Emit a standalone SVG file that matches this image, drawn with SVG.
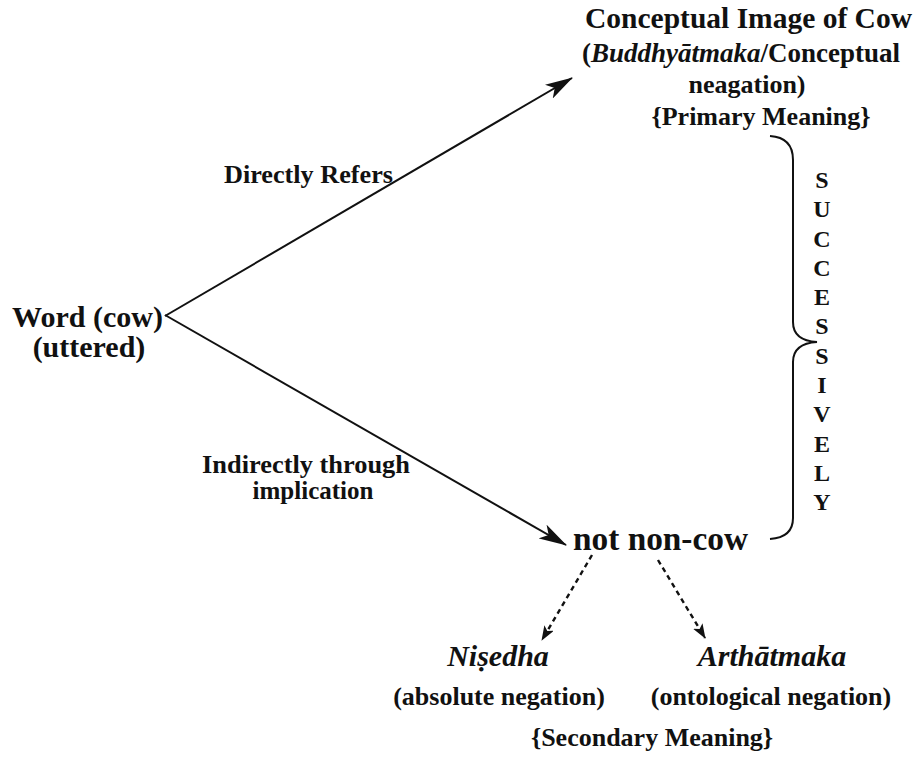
<svg xmlns="http://www.w3.org/2000/svg" width="922" height="757" viewBox="0 0 922 757">
<style>
text{font-family:"Liberation Serif","Times New Roman",serif;font-weight:bold;fill:#111111}
.it{font-style:italic}
.ln{stroke:#111111;stroke-width:2;fill:none}
.dash{stroke:#111111;stroke-width:2.4;fill:none;stroke-dasharray:5 4}
</style>
<defs>
<marker id="ah" markerUnits="userSpaceOnUse" markerWidth="28" markerHeight="16" refX="27" refY="8" orient="auto" viewBox="0 0 28 16">
<path d="M0,0 L28,8 L0,16 L7,8 z" fill="#111111"/>
</marker>
<marker id="ahs" markerUnits="userSpaceOnUse" markerWidth="15" markerHeight="11" refX="14" refY="5.5" orient="auto" viewBox="0 0 15 11">
<path d="M0,0 L15,5.5 L0,11 L3.5,5.5 z" fill="#111111"/>
</marker>
</defs>
<rect width="922" height="757" fill="#ffffff"/>
<g id="connectors">
<line class="ln" x1="165" y1="316" x2="572" y2="78" marker-end="url(#ah)"/>
<line class="ln" x1="165" y1="315" x2="566" y2="545" marker-end="url(#ah)"/>
<line class="dash" x1="592" y1="555" x2="542" y2="640" marker-end="url(#ahs)"/>
<line class="dash" x1="658" y1="560" x2="705" y2="638" marker-end="url(#ahs)"/>
<path class="ln" d="M770,136 C786,137 793,145 793,160 L793,322 C793,334 800,341 817,342 C800,343 793,350 793,362 L793,518 C793,531 785,538 770,539"/>
<text x="224" y="183" font-size="26" textLength="169" lengthAdjust="spacingAndGlyphs">Directly Refers</text>
<text x="202" y="473" font-size="26" textLength="208" lengthAdjust="spacingAndGlyphs">Indirectly through</text>
<text x="313" y="499" font-size="25" text-anchor="middle">implication</text>
</g>
<g id="node-concept">
<text x="585" y="28" font-size="30" textLength="327" lengthAdjust="spacingAndGlyphs">Conceptual Image of Cow</text>
<text x="582" y="62" font-size="27">(<tspan class="it">Buddhyātmaka</tspan>/Conceptual</text>
<text x="747" y="93" font-size="26" text-anchor="middle">neagation)</text>
<text x="761" y="125" font-size="26" text-anchor="middle">{Primary Meaning}</text>
</g>
<g id="node-word">
<text x="12" y="327" font-size="30" textLength="151" lengthAdjust="spacingAndGlyphs">Word (cow)</text>
<text x="89" y="357" font-size="30" text-anchor="middle">(uttered)</text>
</g>
<g id="node-notnoncow">
<text x="573" y="550" font-size="33" textLength="175" lengthAdjust="spacingAndGlyphs">not non-cow</text>
</g>
<g id="label-successively" font-size="24" text-anchor="middle">
<text x="822" y="188">S</text>
<text x="822" y="217">U</text>
<text x="822" y="247">C</text>
<text x="822" y="276">C</text>
<text x="822" y="305">E</text>
<text x="822" y="334">S</text>
<text x="822" y="364">S</text>
<text x="822" y="393">I</text>
<text x="822" y="422">V</text>
<text x="822" y="452">E</text>
<text x="822" y="481">L</text>
<text x="822" y="510">Y</text>
</g>
<g id="node-nisedha">
<text class="it" x="498" y="666" font-size="30" text-anchor="middle">Niṣedha</text>
<text x="499" y="705" font-size="26" text-anchor="middle">(absolute negation)</text>
</g>
<g id="node-arthatmaka">
<text class="it" x="772" y="666" font-size="30" text-anchor="middle">Arthātmaka</text>
<text x="771" y="705" font-size="26" text-anchor="middle">(ontological negation)</text>
</g>
<g id="label-secondary">
<text x="652" y="746" font-size="26" text-anchor="middle">{Secondary Meaning}</text>
</g>
</svg>
